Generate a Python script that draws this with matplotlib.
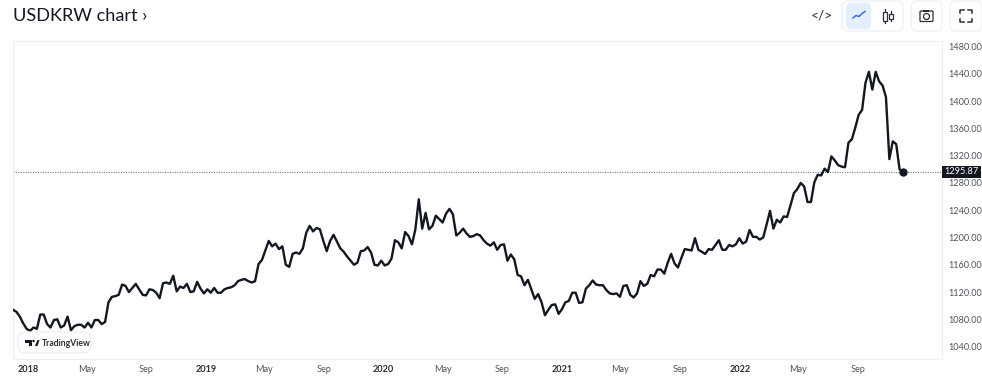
import matplotlib
matplotlib.use('Agg')
import matplotlib.pyplot as plt
import pandas as pd
from matplotlib.patches import FancyBboxPatch, Rectangle, Circle, Polygon

# weekly closes
values_a = [1094, 1091, 1084, 1074, 1066, 1063, 1068, 1066, 1087, 1087, 1073, 1068, 1079, 1080,
            1068, 1071, 1084, 1064, 1070, 1072, 1072, 1068, 1075, 1068, 1079, 1079, 1073, 1076,
            1105, 1113, 1114, 1116, 1131, 1129, 1120, 1126, 1132, 1124, 1116, 1115, 1124, 1123,
            1119, 1111, 1133, 1134, 1132, 1144, 1121, 1128, 1126, 1132, 1120, 1121, 1135, 1125,
            1118, 1124, 1119, 1126, 1119, 1119, 1124, 1126, 1127, 1130, 1136, 1138, 1139, 1136,
            1134, 1136]
values_b = [1161, 1167, 1181, 1195, 1187, 1191, 1183, 1187, 1160, 1157, 1176, 1178, 1176, 1184,
            1207, 1217, 1209, 1214, 1212, 1195, 1180, 1195, 1204, 1194, 1184, 1179, 1172, 1166,
            1160]
values_c = [1163, 1180, 1181, 1186, 1178, 1160, 1159, 1166, 1159, 1161, 1169, 1196, 1193, 1184,
            1208, 1202, 1190, 1212, 1256, 1213, 1236, 1212, 1217, 1232, 1227, 1222, 1235, 1242,
            1234, 1203, 1207, 1213, 1206, 1201, 1202, 1205, 1203, 1196, 1191, 1188, 1193, 1182,
            1189, 1190, 1166, 1175, 1168, 1145, 1143, 1130, 1138, 1124, 1110, 1117, 1105, 1086,
            1094, 1101, 1102, 1088, 1095, 1105, 1107, 1119, 1119, 1104, 1105, 1125, 1130, 1137,
            1131, 1130, 1130, 1123, 1118, 1117, 1118, 1113]
values_d = [1129, 1130, 1116, 1112, 1118, 1136, 1129, 1132, 1145, 1143, 1153, 1153, 1147, 1163,
            1176, 1162, 1156, 1170, 1183, 1182, 1181, 1199, 1182, 1179, 1176, 1183, 1182, 1189,
            1196, 1182, 1182, 1189, 1187, 1190, 1199, 1191, 1194, 1211, 1201, 1201, 1197, 1200,
            1219, 1239, 1213, 1226, 1222, 1231, 1230, 1247, 1265, 1271, 1280, 1275, 1252, 1252,
            1281, 1292, 1291, 1301, 1296, 1319, 1313, 1306, 1304, 1303]
values_e = [1339, 1344, 1361, 1380, 1387, 1427, 1443, 1417, 1443, 1429, 1423, 1406, 1315, 1341,
            1337, 1300, 1295.87]
values = values_a + values_b + values_c + values_d + values_e

y_ticks = [1040, 1080, 1120, 1160, 1200, 1240, 1280, 1320, 1360, 1400, 1440, 1480]
x_tick_dates = ['2018-01-01', '2018-05-01', '2018-09-01', '2019-01-01', '2019-05-01', '2019-09-01',
                '2020-01-01', '2020-05-01', '2020-09-01', '2021-01-01', '2021-05-01', '2021-09-01',
                '2022-01-01', '2022-05-01', '2022-09-01']
x_tick_labels = ['2018', 'May', 'Sep', '2019', 'May', 'Sep', '2020', 'May', 'Sep',
                 '2021', 'May', 'Sep', '2022', 'May', 'Sep']

dates = pd.date_range('2017-12-01', periods=len(values), freq='7D')

W, H = 982, 376
plt.rcParams['font.family'] = ['Lato', 'DejaVu Sans']
fig = plt.figure(figsize=(W / 100, H / 100), dpi=100)
ax = fig.add_axes([13 / W, 1 - 359 / H, (942 - 13) / W, (359 - 41) / H])

ax.plot(dates, values, color='#131722', lw=1.7, solid_joinstyle='round', zorder=3)
ax.plot(dates[-1], values[-1], 'o', color='#131722', ms=5, zorder=4)
ax.axhline(values[-1], color='#787b86', lw=0.8, ls=(0, (1, 1.2)), zorder=2)

px_per_day = (903 - 13) / (dates[-1] - dates[0]).days
ax.set_xlim(dates[0], dates[0] + pd.Timedelta(days=(942 - 13) / px_per_day))
ax.set_ylim(1480 - (359 - 46.6) / 0.6818, 1480 + (46.6 - 41) / 0.6818)

ax.yaxis.tick_right()
ax.set_yticks(y_ticks)
ax.set_yticklabels(['%.2f' % v for v in y_ticks], va='center_baseline')
ax.tick_params(axis='y', length=0, pad=4.3, labelsize=6.6, labelcolor='#50535e')
ax.set_xticks(pd.to_datetime(x_tick_dates))
ax.set_xticklabels(x_tick_labels)
ax.tick_params(axis='x', length=0, pad=4.5, labelsize=6.6, labelcolor='#50535e')
for lab in ax.get_xticklabels():
    if lab.get_text().isdigit():
        lab.set_fontweight('bold')
        lab.set_color('#2a2e39')
for s in ax.spines.values():
    s.set_color('#eef0f4')
    s.set_linewidth(0.9)

# overlay in pixels for the page furniture
ov = fig.add_axes([0, 0, 1, 1], zorder=10)
ov.set_xlim(0, W)
ov.set_ylim(H, 0)
ov.axis('off')
ov.patch.set_alpha(0)

ov.text(13, 16, 'USDKRW chart ›', fontsize=13.1, color='#131722', va='center', ha='left')

# last price tag
ov.add_patch(Rectangle((942, 166), 39, 12, fc='#131722', ec='none'))
ov.text(961, 172, '1295.87', fontsize=6.6, color='white', ha='center', va='center')


def box(x0, y0, x1, y1, fc='white', ec='#eef0f4', r=6, z=2):
    ov.add_patch(FancyBboxPatch((x0 + r, y0 + r), x1 - x0 - 2 * r, y1 - y0 - 2 * r,
                                boxstyle='round,pad=%d,rounding_size=%d' % (r, r),
                                fc=fc, ec=ec, lw=0.9, zorder=z))


# toolbar
ov.text(822, 15.5, '</>', fontsize=10, color='#2a2e39', ha='center', va='center')
box(842, 1, 903, 31)
box(846, 3, 871, 29, fc='#e3effd', ec='none', r=4, z=3)
ov.plot([853, 856, 859, 862, 865], [18, 15.5, 16.5, 13.5, 11.5], color='#2962ff', lw=1, zorder=4)
for cx, top, bot, hw in [(885, 9, 23, 2.2), (891, 11, 21, 1.6)]:
    ov.plot([cx, cx], [top, bot], color='#2a2e39', lw=0.9, zorder=4)
    ov.add_patch(Rectangle((cx - hw, top + 2.5), 2 * hw, bot - top - 5, fc='white', ec='#2a2e39', lw=0.9, zorder=5))
box(911, 1, 942, 31)
box(920, 11, 933, 21.5, fc='white', ec='#2a2e39', r=1, z=3)
ov.add_patch(Rectangle((923, 9.5), 6, 2, fc='#2a2e39', ec='none', zorder=4))
ov.add_patch(Circle((926.5, 16.5), 3, fc='white', ec='#2a2e39', lw=0.9, zorder=4))
box(950, 1, 982, 31)
for xs, ys in [([960, 960, 964], [13, 9.5, 9.5]), ([968, 972, 972], [9.5, 9.5, 13]),
               ([960, 960, 964], [18.5, 22, 22]), ([968, 972, 972], [22, 22, 18.5])]:
    ov.plot(xs, ys, color='#2a2e39', lw=1.1, zorder=4)

# logo pill
box(18, 332, 91, 353, r=8, z=5)
ov.add_patch(Polygon([(25, 340), (32, 340), (32, 346), (29, 346), (29, 343), (25, 343)], fc='#131722', ec='none', zorder=6))
ov.add_patch(Circle((33.5, 341), 1.2, fc='#131722', ec='none', zorder=6))
ov.add_patch(Polygon([(35, 346), (37.5, 340), (39.5, 340), (37.5, 346)], fc='#131722', ec='none', zorder=6))
ov.text(42, 343, 'TradingView', fontsize=6.2, color='#2a2e39', fontweight='bold', ha='left', va='center', zorder=6)

fig.savefig('out.png', dpi=100)
